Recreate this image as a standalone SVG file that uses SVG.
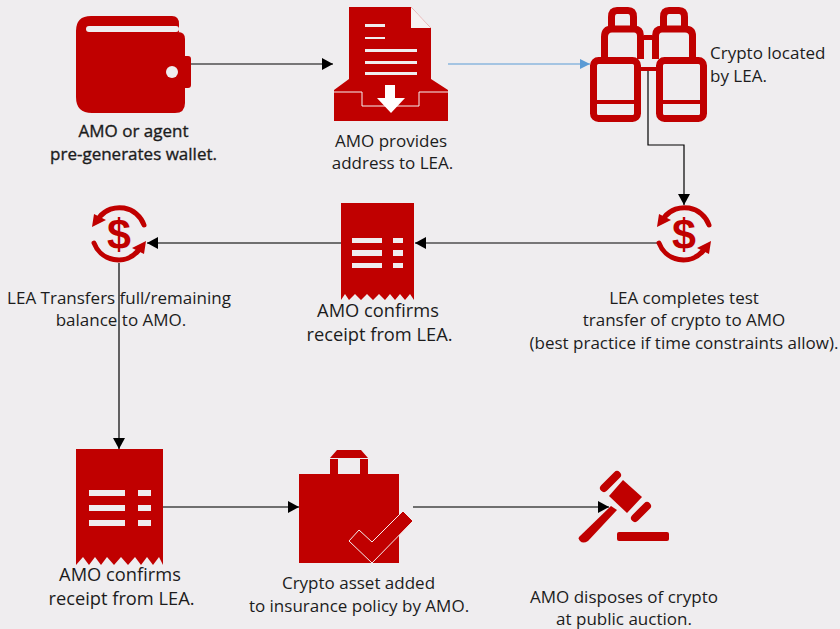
<svg xmlns="http://www.w3.org/2000/svg" width="840" height="629" viewBox="0 0 840 629">
<style>
.r{fill:#c00000}
.bg{fill:#efedef}
.w{fill:#fff}
.t{font-family:"Open Sans","Noto Sans","Liberation Sans",sans-serif;font-size:17px;fill:#1c1c1c}
.l{font-size:18.300px}
.s{stroke:#1c1c1c;stroke-width:.35}
.m{text-anchor:middle}
.c{fill:none;stroke:#000;stroke-width:1.2}
.g{fill:none;stroke:#444;stroke-width:1.3}
.b{fill:none;stroke:#5b9bd5;stroke-width:1.2}
.o{fill:none;stroke:#c00000;stroke-width:7;stroke-linejoin:round}
.a{fill:none;stroke:#c00000;stroke-width:5;stroke-linecap:round}
.d{font-family:"Liberation Sans",sans-serif;font-weight:bold;font-size:43px;fill:#c00000;text-anchor:middle}
</style>
<defs>
<marker id="ah" markerUnits="userSpaceOnUse" markerWidth="11" markerHeight="12" refX="11" refY="6" orient="auto"><path d="M0 0L11 6L0 12Z" fill="#000"/></marker>
<marker id="ab" markerUnits="userSpaceOnUse" markerWidth="10" markerHeight="10" refX="10" refY="5" orient="auto"><path d="M0 0L10 5L0 10Z" fill="#5b9bd5"/></marker>
<g id="money">
<path class="a" d="M-19.500 -17 A26 26 0 0 1 25 -9"/>
<path class="r" d="M-27 -7L-25 -20L-13 -14Z"/>
<path class="a" d="M-25 9 A26 26 0 0 0 19 17"/>
<path class="r" d="M27 7L25 20L13 14Z"/>
<text class="d" x="0" y="14.500">$</text>
</g>
</defs>
<rect width="840" height="629" class="bg"/>
<g id="connectors">
<path class="c" d="M191 64H333" marker-end="url(#ah)"/>
<path class="b" d="M448 64H590" marker-end="url(#ab)"/>
<path class="c" d="M648 71V145H684V205" marker-end="url(#ah)"/>
<path class="c" d="M657 243H415" marker-end="url(#ah)"/>
<path class="g" d="M341 243H147" marker-end="url(#ah)"/>
<path class="c" d="M119 263V449" marker-end="url(#ah)"/>
<path class="g" d="M163 507H299" marker-end="url(#ah)"/>
<path class="g" d="M413 507H609" marker-end="url(#ah)"/>
</g>
<g id="wallet">
<path class="r" d="M91 16H172Q179 16 179 24V32H178Q185 32 185 39V56H188Q191 56 191 59V85Q191 88 188 88H185V103Q185 113 175 113H92Q76 113 76 97V31Q76 16 91 16Z"/>
<rect class="bg" x="86" y="26" width="93" height="6" rx="3"/>
<circle class="bg" cx="172" cy="72" r="6"/>
<text class="t m s" x="133.500" y="137">AMO or agent</text>
<text class="t m s" x="133.500" y="160">pre-generates wallet.</text>
</g>
<g id="document">
<path class="r" d="M334 90L349 79V7H411L431 28V79L448 90V121H334Z"/>
<path fill="#f7f2f2" d="M411 7L431 28H411Z"/>
<path fill="none" stroke="#f7f2f2" stroke-width="1" d="M334 92H362V106H419V92H448"/>
<path class="bg" d="M365 24h20v3h-20zM365 37h20v2h-20zM365 49h52v3h-52zM365 61h52v3h-52zM365 72h52v3h-52z"/>
<path class="w" d="M385 85H395V98H405L391 113L377 98H385Z"/>
<text class="t m" x="391" y="147">AMO provides</text>
<text class="t m" x="392.500" y="169">address to LEA.</text>
</g>
<g id="binoculars">
<path class="o" d="M604.500 59V37Q604.500 29 612 29H634Q640.500 29 640.500 36V59"/>
<path class="o" d="M655.500 59V36Q655.500 29 662 29H685Q692.500 29 692.500 36V59"/>
<path class="o" d="M611.500 28V17Q611.500 10.500 617 10.500H628Q633.500 10.500 633.500 17V28"/>
<path class="o" d="M663.500 28V17Q663.500 10.500 669 10.500H679Q684.500 10.500 684.500 17V28"/>
<rect class="o" x="593.500" y="60.500" width="44" height="58" rx="5"/>
<rect class="o" x="659.500" y="60.500" width="44" height="58" rx="5"/>
<path class="r" d="M644 35H652V40H644ZM641 67H656V71H641ZM594 100H637V104H594ZM660 100H703V104H660Z"/>
<text class="t" x="710" y="59">Crypto located</text>
<text class="t" x="710" y="82">by LEA.</text>
</g>
<g id="test-transfer">
<use href="#money" x="684" y="234"/>
<text class="t m" x="684" y="304">LEA completes test</text>
<text class="t m" x="684" y="326">transfer of crypto to AMO</text>
<text class="t m" x="684" y="349">(best practice if time constraints allow).</text>
</g>
<g id="receipt-1">
<path class="r" d="M341 203H414V300L410 294L405 300L400 294L395 300L390 294L385 300L379 294L373 300L367 294L361 300L355 294L349 300L345 294L341 300Z"/>
<path class="bg" d="M352 238h30v5h-30zM393 238h10v5h-10zM352 250h30v6h-30zM393 250h10v6h-10zM352 263h30v5h-30zM393 263h10v5h-10z"/>
<text class="t l m" x="378" y="317">AMO confirms</text>
<text class="t l m" x="379.500" y="341">receipt from LEA.</text>
</g>
<g id="full-transfer">
<use href="#money" x="119" y="234"/>
<text class="t m" x="119" y="304">LEA Transfers full/remaining</text>
<text class="t m" x="121" y="326">balance to AMO.</text>
</g>
<g id="receipt-2">
<path class="r" d="M76 449H163V565L159 557L153 565L147 557L141 565L135 557L128 565L121 557L114 565L107 557L101 565L95 557L89 565L83 557L76 565Z"/>
<path class="bg" d="M89 490h36v6h-36zM138 490h13v6h-13zM89 505h36v6h-36zM138 505h13v6h-13zM89 520h36v6h-36zM138 520h13v6h-13z"/>
<text class="t l m" x="120" y="581">AMO confirms</text>
<text class="t l m" x="121.500" y="605">receipt from LEA.</text>
</g>
<g id="bag">
<path class="r" d="M299 474H330V459H338V474H360V459H368V474H399V563H299Z"/>
<path class="r" d="M330 458L337 450H361L368 458Z"/>
<path class="r" stroke="#f4eeee" stroke-width="1" d="M403 511L413 521L372 563L349 541L359 530L372 542Z"/>
<text class="t m" x="358.500" y="589">Crypto asset added</text>
<text class="t m" x="359" y="612">to insurance policy by AMO.</text>
</g>
<g id="gavel">
<path class="r" d="M623 480L642 497L627 513L609 496Z"/>
<path stroke="#c00000" stroke-width="8" stroke-linecap="round" d="M604 488L617 475M635 518L647 506"/>
<path class="r" d="M579 537L611 506L617 510L588 541Q583 544 580 541Q578 539 579 537Z"/>
<rect class="r" x="617" y="532" width="52" height="9" rx="2"/>
<text class="t m" x="624" y="603">AMO disposes of crypto</text>
<text class="t m" x="624" y="625">at public auction.</text>
</g>
</svg>
